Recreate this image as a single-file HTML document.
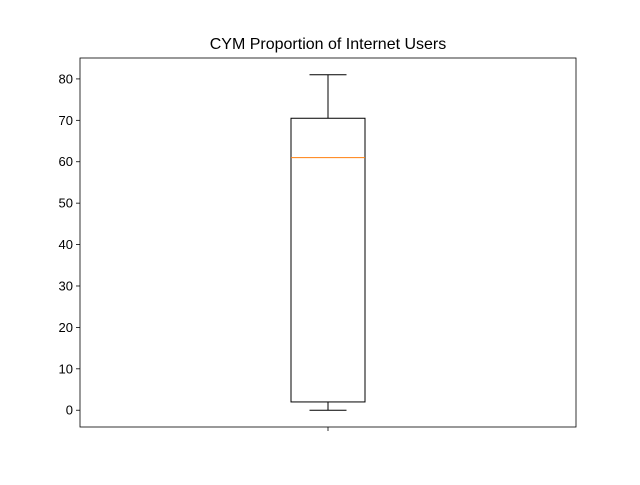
<!DOCTYPE html>
<html><head><meta charset="utf-8"><style>
body{margin:0;background:#fff;}
svg text{font-family:"Liberation Sans","DejaVu Sans",sans-serif;}
</style></head><body>
<svg id="chart" width="640" height="480">
<rect width="640" height="480" fill="#fff"/>
</svg>
<script>
const categories = ["CYM"];
const whiskerLow = [0];
const q1Values = [2];
const medianValues = [61];
const q3Values = [70.5];
const whiskerHigh = [81];
const yTicks = [0,10,20,30,40,50,60,70,80];

const L=80,R=576,T=58,B=427;
const yMin=-4.05,yMax=85.05;
const y=v=>B-(v-yMin)/(yMax-yMin)*(B-T);
const x=i=>L+(R-L)*(i+0.5)/categories.length;
const svg=document.getElementById('chart');
const NS='http://www.w3.org/2000/svg';
function mk(tag,attrs,parent){const e=document.createElementNS(NS,tag);for(const k in attrs)e.setAttribute(k,attrs[k]);(parent||svg).appendChild(e);return e;}

const title=mk('text',{x:328,y:49,'text-anchor':'middle','font-size':16,fill:'#000'});
title.textContent='CYM Proportion of Internet Users';



yTicks.forEach(t=>{
  const yy=y(t);
  const tk=mk('line',{x1:L-4,x2:L,y1:yy,y2:yy,stroke:'#000','stroke-width':0.8});
  
  
  const lb=mk('text',{x:L-7,y:yy+4.5,'text-anchor':'end','font-size':13,fill:'#000'});
  lb.textContent=t;
  
  
});

categories.forEach((c,i)=>{
  const cx=x(i),hw=37,cw=18.5;
  const g=mk('g',{});
  
  
  mk('line',{x1:cx,x2:cx,y1:y(q3Values[i]),y2:y(whiskerHigh[i]),stroke:'#000'},g);
  mk('line',{x1:cx,x2:cx,y1:y(q1Values[i]),y2:y(whiskerLow[i]),stroke:'#000'},g);
  mk('line',{x1:cx-cw,x2:cx+cw,y1:y(whiskerHigh[i]),y2:y(whiskerHigh[i]),stroke:'#000'},g);
  mk('line',{x1:cx-cw,x2:cx+cw,y1:y(whiskerLow[i]),y2:y(whiskerLow[i]),stroke:'#000'},g);
  mk('rect',{x:cx-hw,y:y(q3Values[i]),width:2*hw,height:y(q1Values[i])-y(q3Values[i]),fill:'none',stroke:'#000'},g);
  mk('line',{x1:cx-hw,x2:cx+hw,y1:y(medianValues[i]),y2:y(medianValues[i]),stroke:'#ff7f0e'},g);
  const xt=mk('line',{x1:cx,x2:cx,y1:B,y2:B+4,stroke:'#000','stroke-width':0.8});
  
  
});

const frame=mk('rect',{x:L,y:T,width:R-L,height:B-T,fill:'none',stroke:'#000','stroke-width':0.8});


</script>
</body></html>
